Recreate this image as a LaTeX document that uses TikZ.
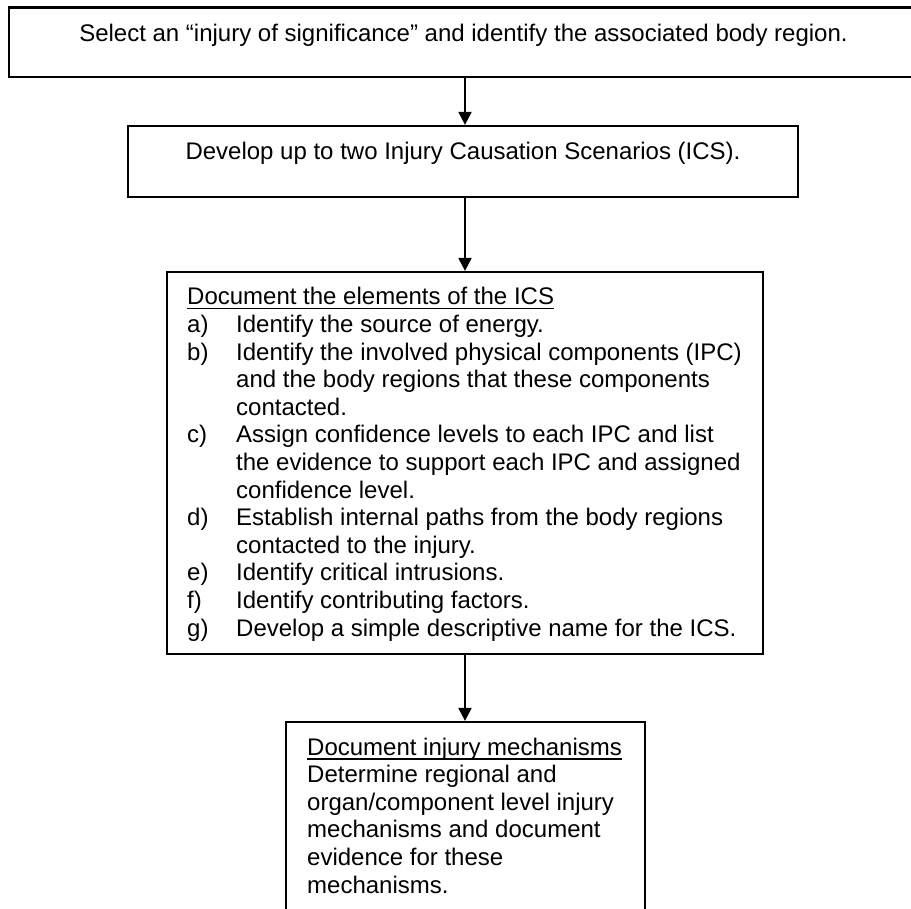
\documentclass[tikz,border=0pt]{standalone}
\usepackage{fontspec}
\setmainfont{Liberation Sans}
\usetikzlibrary{arrows.meta}
\newcommand\ulx[1]{\setbox0\hbox{#1}\rlap{\rule[-4.5pt]{\wd0}{1.8pt}}\box0}
\newcommand\lbl[1]{\makebox[49pt][l]{#1}}
\begin{document}
\begin{tikzpicture}[x=1pt,y=-1pt,
  box/.style={draw=black, line width=2.2pt, fill=none, inner sep=0pt},
  txt/.style={inner sep=0pt, font=\fontsize{24}{27.6}\selectfont},
  arr/.style={draw=black, line width=2pt, -{Triangle[length=13pt,width=13pt]}}]
\useasboundingbox (0,0) rectangle (911,909);
% boxes
\node[box, minimum width=909pt, minimum height=69.5pt] (b1) at (463.5,42.25) {};
\node[box, minimum width=670pt, minimum height=71pt] (b2) at (463,161.5) {};
\node[box, minimum width=596pt, minimum height=382pt] (b3) at (465,463) {};
\node[box, minimum width=359pt, minimum height=218pt] (b4) at (465.5,831) {};
% texts
\node[txt, anchor=base] (t1) at (463.5,41.5) {Select an “injury of significance” and identify the associated body region.};
\node[txt, anchor=base] (t2) at (463,159.3) {Develop up to two Injury Causation Scenarios (ICS).};
\node[txt, anchor=base west] (t3) at (187,305) {\vtop{\baselineskip=27.6pt\lineskiplimit=-100pt
  \hbox{\ulx{Document the elements of the ICS}}
  \hbox{\lbl{a)}Identify the source of energy.}
  \hbox{\lbl{b)}Identify the involved physical components (IPC)}
  \hbox{\lbl{}and the body regions that these components}
  \hbox{\lbl{}contacted.}
  \hbox{\lbl{c)}Assign confidence levels to each IPC and list}
  \hbox{\lbl{}the evidence to support each IPC and assigned}
  \hbox{\lbl{}confidence level.}
  \hbox{\lbl{d)}Establish internal paths from the body regions}
  \hbox{\lbl{}contacted to the injury.}
  \hbox{\lbl{e)}Identify critical intrusions.}
  \hbox{\lbl{f)}Identify contributing factors.}
  \hbox{\lbl{g)}Develop a simple descriptive name for the ICS.}}};
\node[txt, anchor=base west] (t4) at (307,755) {\vtop{\baselineskip=27.6pt\lineskiplimit=-100pt
  \hbox{\ulx{Document injury mechanisms}}
  \hbox{Determine regional and}
  \hbox{organ/component level injury}
  \hbox{mechanisms and document}
  \hbox{evidence for these}
  \hbox{mechanisms.}}};
% arrows
\draw[arr] (b1.south -| b3.north) -- (b2.north -| b3.north);
\draw[arr] (b2.south -| b3.north) -- (b3.north);
\draw[arr] (b3.south) -- (b4.north -| b3.south);
\end{tikzpicture}
\end{document}
